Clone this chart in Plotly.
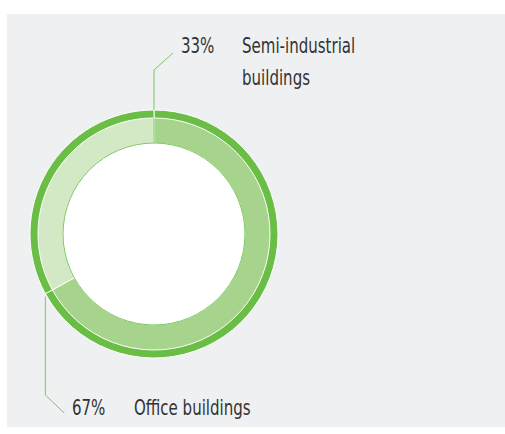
import math
import plotly.graph_objects as go

# Data
categories = ["Office buildings", "Semi-industrial buildings"]
values = [67, 33]
pct_labels = ["67%", "33%"]
name_labels = ["Office buildings", "Semi-industrial<br>buildings"]

W, H = 505, 434
CX, CY = 154, 234
R_OUT, R_MID, R_IN = 124, 116, 91

DARK = "#6abd45"
SEG_COLORS = ["#a7d48d", "#d3e8c5"]
LINE = "#7cc75d"
TEXT = "#333333"
FONT = "DejaVu Sans Condensed, DejaVu Sans, sans-serif"
FS = 22


def px(x):
    return x / W


def py(y):
    return 1 - y / H


def dom(r):
    return dict(x=[px(CX - r), px(CX + r)], y=[py(CY + r), py(CY - r)])


fig = go.Figure()
fig.add_trace(go.Pie(
    labels=categories, values=values, sort=False, direction="clockwise",
    rotation=0, hole=R_IN / R_OUT, domain=dom(R_OUT),
    marker=dict(colors=[DARK, DARK], line=dict(color="white", width=1)),
    textinfo="none", hoverinfo="skip", showlegend=False,
))
fig.add_trace(go.Pie(
    labels=categories, values=values, sort=False, direction="clockwise",
    rotation=0, hole=R_IN / R_MID, domain=dom(R_MID),
    marker=dict(colors=SEG_COLORS, line=dict(color="white", width=1)),
    textinfo="none", showlegend=False,
))

shapes = [
    dict(type="rect", xref="paper", yref="paper", x0=px(7), x1=px(505),
         y0=py(427), y1=py(14), fillcolor="#eff0f2", line_width=0, layer="below"),
    dict(type="circle", xref="paper", yref="paper", x0=px(CX - R_IN), x1=px(CX + R_IN),
         y0=py(CY + R_IN), y1=py(CY - R_IN), fillcolor="white",
         line=dict(color=LINE, width=1), layer="above"),
]

# leader line for the second slice start (top, angle 0)
shapes.append(dict(type="path", xref="paper", yref="paper",
                   path=f"M {px(CX)},{py(CY - R_OUT)} L {px(CX)},{py(70)} L {px(173)},{py(53)}",
                   line=dict(color=LINE, width=1), layer="above"))
shapes.append(dict(type="line", xref="paper", yref="paper",
                   x0=px(CX), x1=px(CX), y0=py(CY - R_MID), y1=py(CY - R_IN),
                   line=dict(color=LINE, width=1), layer="above"))
# leader line at the boundary between the slices
ang = 2 * math.pi * values[0] / sum(values)
bx = CX + R_OUT * math.sin(ang)
by = CY - R_OUT * math.cos(ang) + 3
shapes.append(dict(type="path", xref="paper", yref="paper",
                   path=f"M {px(bx)},{py(by)} L {px(bx)},{py(395)} L {px(bx + 19)},{py(413)}",
                   line=dict(color=LINE, width=1), layer="above"))

annotations = [
    dict(text=pct_labels[1], x=px(179), y=py(46)),
    dict(text=pct_labels[0], x=px(70), y=py(407)),
    dict(text=name_labels[0], x=px(132), y=py(407)),
]
for i, line in enumerate(name_labels[1].split("<br>")):
    annotations.append(dict(text=line, x=px(240), y=py(46 + 31 * i)))
for a in annotations:
    a.update(xref="paper", yref="paper", showarrow=False, align="left",
             xanchor="left", yanchor="middle",
             font=dict(family=FONT, size=FS, color=TEXT))

fig.update_layout(
    width=W, height=H, margin=dict(l=0, r=0, t=0, b=0),
    paper_bgcolor="white", plot_bgcolor="white",
    shapes=shapes, annotations=annotations,
)
post = (
    "document.body.style.margin='0';document.body.style.overflow='hidden';"
    "var s=document.createElement('style');"
    "s.textContent='.annotation-text{font-stretch:condensed;transform:scaleX(0.76);"
    "transform-box:fill-box;transform-origin:0 50%;}';"
    "document.head.appendChild(s);"
)
fig.write_html("out.html", post_script=post, config={"displayModeBar": False})
